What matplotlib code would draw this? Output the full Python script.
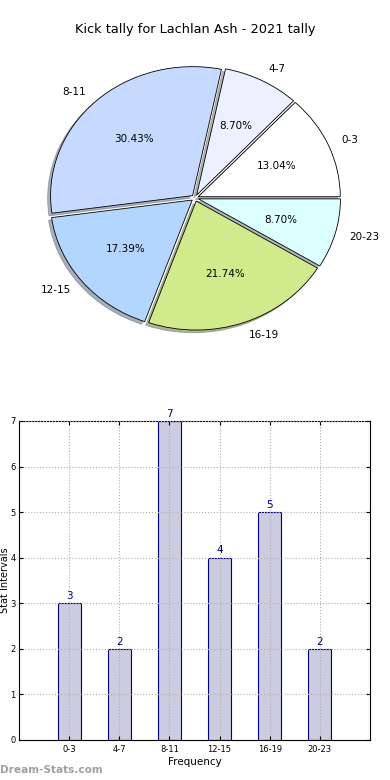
import matplotlib
matplotlib.use("Agg")
import matplotlib.pyplot as plt

# data
intervals = ["0-3", "4-7", "8-11", "12-15", "16-19", "20-23"]
kicks = [3, 2, 7, 4, 5, 2]
pie_colors = ["#ffffff", "#ebf1ff", "#c6daff", "#b3d6ff", "#d1ea8c", "#dcffff"]
explode = [0.025] * 6

fig = plt.figure(figsize=(3.9, 7.8), dpi=100)

# pie on top (old-style, not forced round)
ax1 = fig.add_axes([0.04487, 0.5394, 0.9103, 0.4135])
wedges, texts, autotexts = ax1.pie(kicks, labels=intervals, colors=pie_colors,
                                   explode=explode, autopct="%1.2f%%",
                                   shadow={"ox": -0.015, "oy": -0.015, "shade": 0.55},
                                   wedgeprops=dict(edgecolor="black", linewidth=0.6),
                                   textprops=dict(fontsize=7.5))
ax1.set_aspect("auto")
ax1.set_xlim(-1.25, 1.25)
ax1.set_ylim(-1.25, 1.25)
ax1.axis("off")
fig.text(0.5, 1 - 30 / 780, "Kick tally for Lachlan Ash - 2021 tally",
         ha="center", va="center", fontsize=9.3)

# bar chart below
ax2 = fig.add_axes([0.0487, 0.0513, 0.9, 0.409])
pos = list(range(len(intervals)))
bars = ax2.bar(pos, kicks, width=0.46, color="#cccce0", edgecolor="#000080", linewidth=0.8)
for x, v in zip(pos, kicks):
    ax2.text(x, v + 0.05, str(v), ha="center", va="bottom", color="#000080", fontsize=7.5)
ax2.set_xlim(-1, 6)
ax2.set_ylim(0, 7)
ax2.set_xticks(pos)
ax2.set_xticklabels(intervals)
ax2.set_yticks(range(8))
ax2.tick_params(direction="in", top=True, right=True, labelsize=6, length=3)
ax2.tick_params(axis="y", pad=2.5)
ax2.grid(True, linestyle=":", color="#b0b0b0", linewidth=0.8)
ax2.set_axisbelow(False)
ax2.set_xlabel("Frequency", fontsize=7.5, labelpad=2)
ax2.set_ylabel("Stat Intervals", fontsize=7, va="center")
ax2.yaxis.set_label_coords(-0.04, 0.5)

fig.text(0.0, 1 - 770 / 780, "Dream-Stats.com", color="#a0a0a0", fontsize=7.6,
         fontweight="bold", ha="left", va="center")

fig.savefig("out.png", dpi=100)
